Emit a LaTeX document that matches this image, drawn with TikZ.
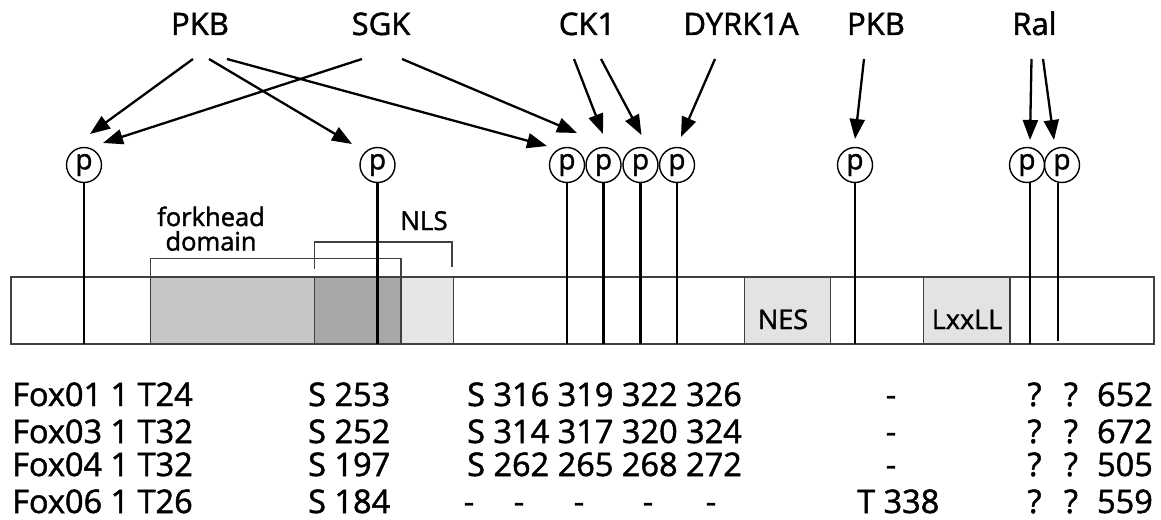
\documentclass[tikz,border=0pt]{standalone}
\usepackage{fontspec}
\setmainfont{Open Sans}[FakeBold=1.5]
\usetikzlibrary{arrows.meta,calc}
\definecolor{fkL}{HTML}{C6C6C6}
\definecolor{fkD}{HTML}{A8A8A8}
\definecolor{nlsL}{HTML}{E6E6E6}
\definecolor{boxL}{HTML}{E3E3E3}
\definecolor{edgec}{HTML}{404040}
\begin{document}
\begin{tikzpicture}[x=1pt,y=-1pt,
  lab/.style={font=\fontsize{31}{33}\selectfont, anchor=base, inner sep=0},
  arr/.style={line width=2.3pt, -{Triangle[length=20pt,width=15pt]}},
  pc/.style={draw, circle, line width=1.4pt, minimum size=35pt, inner sep=0, font=\fontsize{28}{30}\selectfont},
  stem/.style={line width=2.8pt},
  edge/.style={draw=edgec, line width=1.6pt},
  brk/.style={draw=edgec, line width=1.4pt},
  dlab/.style={font=\fontsize{26}{28}\selectfont, anchor=base, inner sep=0},
  blab/.style={font=\fontsize{27}{29}\selectfont, anchor=base, inner sep=0},
  tab/.style={font=\fontsize{32.5}{34}\selectfont, anchor=base west, inner sep=0},
  tabc/.style={font=\fontsize{32.5}{34}\selectfont, anchor=base, inner sep=0},
  tabe/.style={font=\fontsize{32.5}{34}\selectfont, anchor=base east, inner sep=0}]
\useasboundingbox[fill=white] (0,0) rectangle (1161,519);

% protein bar and domains
\coordinate (barNW) at (11,277);
\coordinate (barSE) at (1154,344);
\fill[fkL] (150.5,277) rectangle (314.5,344);
\fill[fkD] (314.5,277) rectangle (401,344);
\fill[nlsL] (401,277) rectangle (453.5,344);
\fill[boxL] (744.5,277) rectangle (830.5,344);
\fill[boxL] (923.5,277) rectangle (1010,344);
\foreach \x in {150.5,314.5,401,453.5,744.5,830.5,923.5,1010}
  \draw[edge] (\x,277) -- (\x,344);
\draw[edge] (barNW) rectangle (barSE);

% brackets
\draw[brk] (150.5,277) -- (150.5,258.5) -- (401,258.5) -- (401,277);
\draw[brk] (314.5,268.5) -- (314.5,242) -- (452,242) -- (452,267);
\node[font=\fontsize{25.5}{24.5}\selectfont, align=center, inner sep=0, anchor=south] (fh) at (211,251) {forkhead\\domain};
\node[dlab] (nls) at (424,230) {NLS};
\node[blab] (nes) at (783,329) {NES};
\node[blab] (lxx) at (967,329) {LxxLL};

% phospho sites
\node[pc] (p1) at (84,165) {p};
\node[pc] (p2) at (377.5,165) {p};
\node[pc] (p3) at (567,165) {p};
\node[pc] (p4) at (603.5,165) {p};
\node[pc] (p5) at (640.5,165) {p};
\node[pc] (p6) at (677,165) {p};
\node[pc] (p7) at (855,165) {p};
\node[pc] (p8) at (1027,165) {p};
\node[pc] (p9) at (1062,165) {p};
\foreach \p in {p1,p2,p3,p4,p5,p6,p7}
  \draw[stem] (\p.south) -- (\p.south |- barSE);
\draw[stem] ($(p8.south)+(3,0)$) -- ($(p8.south |- barSE)+(3,0)$);
\draw[stem] ($(p9.south)+(-4,0)$) -- ($(p9.south |- barSE)+(-4,-3)$);

% kinases
\node[lab] (kA) at (200,35) {PKB};
\node[lab] (kB) at (381,35) {SGK};
\node[lab] (kC) at (587,35) {CK1};
\node[lab] (kD) at (741,35) {DYRK1A};
\node[lab] (kE) at (876,35) {PKB};
\node[lab] (kF) at (1034.5,35) {Ral};

\draw[arr] ($(kA.base)+(-7,24)$) -- ($(p1.center)+(6,-31)$);
\draw[arr] ($(kA.base)+(9,24)$) -- ($(p2.center)+(-25.5,-21)$);
\draw[arr] ($(kA.base)+(27,24)$) -- ($(p3.center)+(-20,-19)$);
\draw[arr] ($(kB.base)+(-19,24)$) -- ($(p1.center)+(19,-22)$);
\draw[arr] ($(kB.base)+(21,24)$) -- ($(p3.center)+(10,-32)$);
\draw[arr] ($(kC.base)+(-13,24)$) -- ($(p4.center)+(-0.5,-31)$);
\draw[arr] ($(kC.base)+(14,24)$) -- ($(p5.center)+(1,-30)$);
\draw[arr] ($(kD.base)+(-26,24)$) -- ($(p6.center)+(4,-28)$);
\draw[arr] ($(kE.base)+(-12,24)$) -- ($(p7.center)+(0,-26)$);
\draw[arr] ($(kF.base)+(-3,24)$) -- ($(p8.center)+(3,-25)$);
\draw[arr] ($(kF.base)+(8.5,24)$) -- ($(p9.center)+(-8,-25)$);

% table
\node[tab] (r1a) at (12,406) {Fox01 1 T24};
\node[tab] (r1b) at (308,406) {S 253};
\node[tab] (r1c) at (467,406) {S 316 319 322 326};
\node[tabc] (r1d) at (891,406) {-};
\node[tabc] (r1e) at (1034.5,406) {?};
\node[tabc] (r1f) at (1071,406) {?};
\node[tabe] (r1g) at (1153,406) {652};

\node[tab] (r2a) at (12,443) {Fox03 1 T32};
\node[tab] (r2b) at (308,443) {S 252};
\node[tab] (r2c) at (467,443) {S 314 317 320 324};
\node[tabc] (r2d) at (891,443) {-};
\node[tabc] (r2e) at (1034.5,443) {?};
\node[tabc] (r2f) at (1071,443) {?};
\node[tabe] (r2g) at (1153,443) {672};

\node[tab] (r3a) at (12,476) {Fox04 1 T32};
\node[tab] (r3b) at (308,476) {S 197};
\node[tab] (r3c) at (467,476) {S 262 265 268 272};
\node[tabc] (r3d) at (891,476) {-};
\node[tabc] (r3e) at (1034.5,476) {?};
\node[tabc] (r3f) at (1071,476) {?};
\node[tabe] (r3g) at (1153,476) {505};

\node[tab] (r4a) at (12,513) {Fox06 1 T26};
\node[tab] (r4b) at (308,513) {S 184};
\foreach \x/\n in {469/1,519/2,579/3,648/4,711/5}
  \node[tabc] (r4d\n) at (\x,513) {-};
\node[tab] (r4c) at (857,513) {T 338};
\node[tabc] (r4e) at (1034.5,513) {?};
\node[tabc] (r4f) at (1071,513) {?};
\node[tabe] (r4g) at (1153,513) {559};
\end{tikzpicture}
\end{document}
